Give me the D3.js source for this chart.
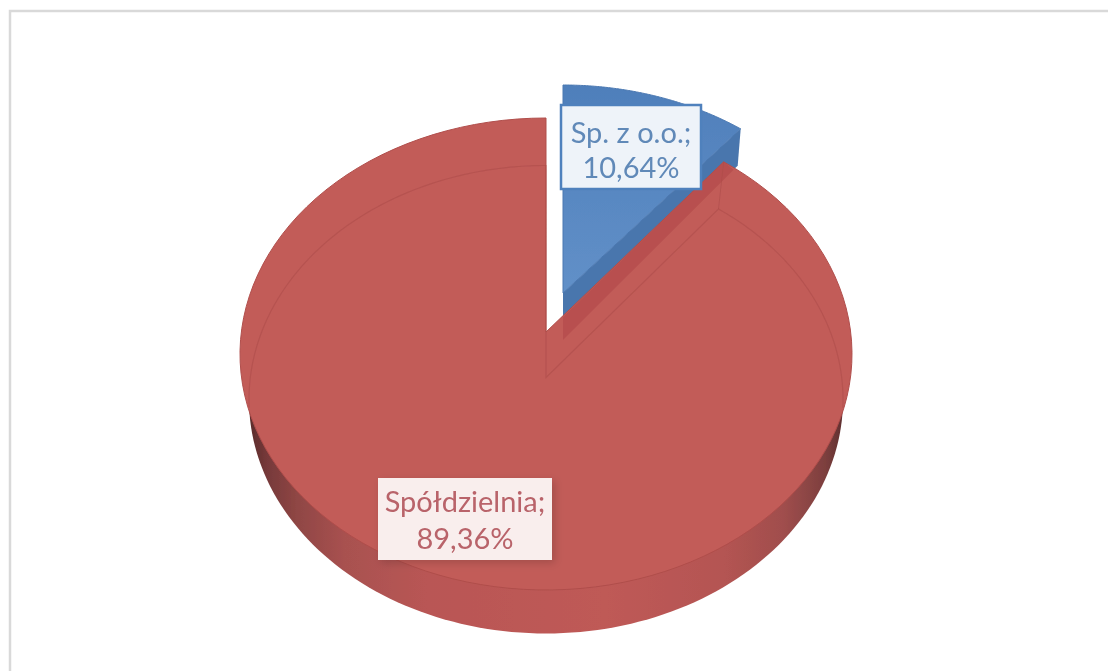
<!DOCTYPE html>
<html><head><meta charset="utf-8">
<script src="https://cdn.jsdelivr.net/npm/d3@7"></script>
<style>html,body{margin:0;padding:0;background:#fff;overflow:hidden}svg{display:block}</style>
</head><body><svg id="c" width="1108" height="671"></svg>
<script>
const categories = ["Sp. z o.o.", "Spółdzielnia"];
const shares = [10.64, 89.36];
const shareLabels = ["10,64%", "89,36%"];

const svg = d3.select("#c");
const W = 1108, H = 671;
const R = {cx:546, cy:354, rx:306, ry:236, apexLift:22};
const Low = {cx:546, cy:399.5, rx:297, ry:234, apexLift:22};   // lower rim of the disc
const blue = {dx:17, dy:-33, apexLift:28, depth:37};

// Value → angle; the tilted projection squeezes the first slice slightly.
const angle = d3.scaleLinear().domain([0, shares[0], 100]).range([0, 35.5, 360]);
const px = (g, a) => g.cx + g.rx * Math.sin(a * Math.PI / 180);
const py = (g, a) => g.cy - g.ry * Math.cos(a * Math.PI / 180);

function arcPoints(p, g, a0, a1, move) {
  const n = 120;
  for (let i = 0; i <= n; i++) {
    const a = a0 + (a1 - a0) * i / n;
    if (i === 0 && move) p.moveTo(px(g, a), py(g, a)); else p.lineTo(px(g, a), py(g, a));
  }
}
function wedge(g, a0, a1, apexX, apexY) {
  const p = d3.path();
  p.moveTo(apexX, apexY);
  arcPoints(p, g, a0, a1, false);
  p.closePath();
  return p.toString();
}

const defs = svg.append("defs");
const f = defs.append("filter").attr("id","soft").attr("x","-2%").attr("y","-2%").attr("width","104%").attr("height","104%");
f.append("feGaussianBlur").attr("stdDeviation",0.7);
const ft = defs.append("filter").attr("id","softText").attr("x","-5%").attr("y","-10%").attr("width","110%").attr("height","120%");
ft.append("feGaussianBlur").attr("stdDeviation",0.45);
const sh = defs.append("filter").attr("id","shadow").attr("x","-15%").attr("y","-15%").attr("width","130%").attr("height","130%");
sh.append("feDropShadow").attr("dx",3).attr("dy",3).attr("stdDeviation",4).attr("flood-color","#000").attr("flood-opacity",0.16);

const wall = defs.append("linearGradient").attr("id","wall").attr("gradientUnits","userSpaceOnUse")
  .attr("x1",249).attr("x2",843).attr("y1",0).attr("y2",0);
[[0,"#5a2b2a"],[0.03,"#76393a"],[0.08,"#8f4644"],[0.16,"#a85150"],[0.3,"#b95654"],[0.6,"#bf5a57"],[0.8,"#b45452"],[0.9,"#a04e4d"],[0.97,"#7d3f3e"],[1,"#5f3030"]]
  .forEach(([o,c]) => wall.append("stop").attr("offset",o).attr("stop-color",c));
const blueFill = defs.append("linearGradient").attr("id","blueFill").attr("x1",0).attr("x2",0).attr("y1",0).attr("y2",1);
[[0,"#4f7fbb"],[1,"#6190c8"]].forEach(([o,c]) => blueFill.append("stop").attr("offset",o).attr("stop-color",c));

// Outer frame
svg.append("path").attr("d", d3.line()([[W+5,11],[10,11],[10,H+5]]))
  .attr("fill","none").attr("stroke","#d9d9d9").attr("stroke-width",2.5);

const chart = svg.append("g").attr("filter","url(#soft)");

// Blue slice (exploded)
const gB = {cx:R.cx+blue.dx, cy:R.cy+blue.dy, rx:R.rx, ry:R.ry};
const aB = angle(shares[0]);
const bApex = gB.cy - blue.apexLift;
const bSide = d3.path();
bSide.moveTo(gB.cx, bApex);
bSide.lineTo(px(gB,aB), py(gB,aB));
bSide.lineTo(px(gB,aB)-3, py(gB,aB)+blue.depth);
bSide.lineTo(gB.cx, bApex+blue.depth);
bSide.closePath();
chart.append("path").attr("d", bSide.toString()).attr("fill","#4a76ad");
chart.append("path").attr("d", wedge(gB, 0, aB, gB.cx, bApex)).attr("fill","url(#blueFill)").attr("stroke","#4b78b1").attr("stroke-width",1);

// Red slice: side wall (lower half of the lower rim)
const side = d3.path();
arcPoints(side, Low, 80, 280, true);
side.closePath();
chart.append("path").attr("d", side.toString()).attr("fill","url(#wall)");

// Red slice: top face
const rApex = R.cy - R.apexLift;
chart.append("path").attr("d", wedge(R, aB, 360, R.cx, rApex)).attr("fill","#c25c59").attr("stroke","#b04e4b").attr("stroke-width",1);

// Darker band where the blue slice's wall shows through the red
const band = d3.path();
band.moveTo(gB.cx, R.cy - 37);
band.lineTo(px(R,aB), py(R,aB));
band.lineTo(px(R,aB)+10, py(R,aB)+8);
band.lineTo(gB.cx, bApex+47);
band.closePath();
chart.append("path").attr("d", band.toString()).attr("fill","#b54e4c").attr("opacity",0.8);

// Lower rim seen through the top face: upper arcs and the notch
const rim = d3.path();
arcPoints(rim, Low, 268, 360, true);
rim.lineTo(Low.cx, Low.cy - Low.apexLift);
rim.lineTo(px(Low,aB), py(Low,aB));
arcPoints(rim, Low, aB, 92, false);
chart.append("path").attr("d", rim.toString()).attr("fill","none").attr("stroke","#ad4c49").attr("stroke-width",1.2).attr("opacity",0.6);
chart.append("path").attr("d", d3.line()([[px(Low,aB),py(Low,aB)],[px(R,aB),py(R,aB)]]))
  .attr("stroke","#ad4c49").attr("fill","none").attr("opacity",0.6);

// Labels
const boxes = [
  {i:0, x:561, y:105, w:140, h:84, fill:"#eef3f9", stroke:"#4f81bd", sw:2.5, text:"#6189b8", filter:null, b1:38, b2:73},
  {i:1, x:378, y:478, w:174, h:82, fill:"#f9eeed", stroke:"none", sw:0, text:"#b9646a", filter:"url(#shadow)", b1:34, b2:71}
];
const lab = svg.append("g");
boxes.forEach(b => {
  const g = lab.append("g");
  g.append("rect").attr("x",b.x).attr("y",b.y).attr("width",b.w).attr("height",b.h)
    .attr("fill",b.fill).attr("stroke",b.stroke).attr("stroke-width",b.sw).attr("filter",b.filter);
  const t = g.append("text").attr("text-anchor","middle").attr("font-family","Lato, 'Open Sans', sans-serif")
    .attr("font-size",29).attr("fill",b.text).attr("filter","url(#softText)");
  t.append("tspan").attr("x",b.x+b.w/2).attr("y",b.y+b.b1).text(categories[b.i]+";");
  t.append("tspan").attr("x",b.x+b.w/2).attr("y",b.y+b.b2).text(shareLabels[b.i]);
});
</script></body></html>
